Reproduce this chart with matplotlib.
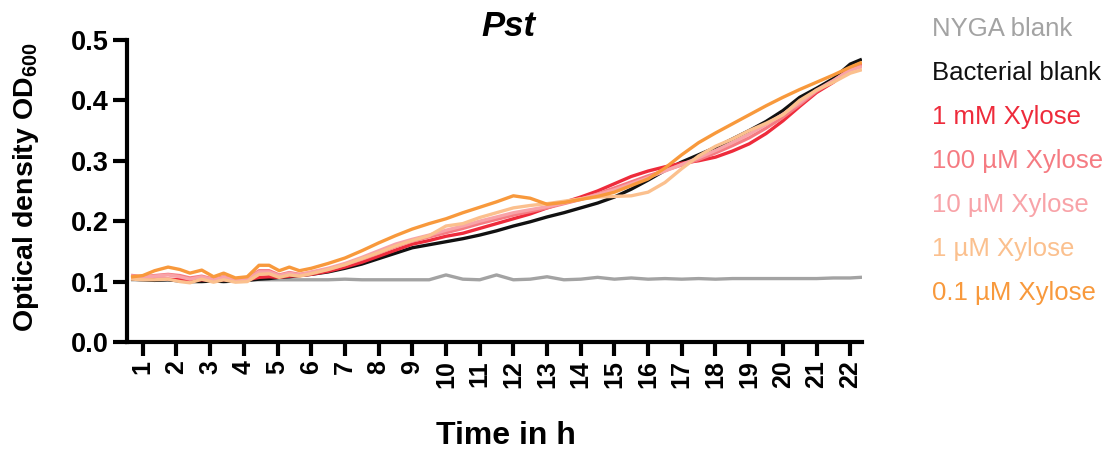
import matplotlib
matplotlib.use("Agg")
import matplotlib.pyplot as plt

# Fonts (Arial-like)
plt.rcParams['font.family'] = ['Liberation Sans', 'DejaVu Sans']
plt.rcParams['mathtext.fontset'] = 'custom'
plt.rcParams['mathtext.rm'] = 'Liberation Sans'
plt.rcParams['mathtext.bf'] = 'Liberation Sans:bold'

# Time points (h)
time_h = [0.7, 1.0, 1.35, 1.75, 2.1, 2.4, 2.75, 3.1, 3.4, 3.75, 4.1, 4.45, 4.75, 5.05, 5.35, 5.65, 6.0,
          6.5, 7.0, 7.5, 8.0, 8.5, 9.0, 9.5, 10.0, 10.5, 11.0, 11.5, 12.0, 12.5, 13.0, 13.5, 14.0,
          14.5, 15.0, 15.5, 16.0, 16.5, 17.0, 17.5, 18.0, 18.5, 19.0, 19.5, 20.0, 20.5, 21.0, 21.5,
          22.0, 22.3]

# OD600 per condition
nyga_blank = [0.103, 0.103, 0.103, 0.103, 0.102, 0.102, 0.103, 0.102, 0.103, 0.102, 0.103, 0.103, 0.103,
              0.103, 0.103, 0.103, 0.103,
              0.103, 0.104, 0.103, 0.103, 0.103, 0.103, 0.103, 0.111, 0.104, 0.103, 0.111, 0.103, 0.104,
              0.108, 0.103, 0.104, 0.107, 0.104, 0.106, 0.104, 0.105, 0.104, 0.105, 0.104, 0.105, 0.105,
              0.105, 0.105, 0.105, 0.105, 0.106, 0.106, 0.107]
bacterial_blank = [0.104, 0.103, 0.102, 0.103, 0.101, 0.100, 0.100, 0.101, 0.100, 0.101, 0.102, 0.104, 0.105,
                   0.107, 0.108, 0.110, 0.112,
                   0.116, 0.122, 0.129, 0.138, 0.147, 0.156, 0.161, 0.166, 0.171, 0.177, 0.184, 0.192,
                   0.199, 0.207, 0.214, 0.222, 0.230, 0.240, 0.253, 0.268, 0.284, 0.298, 0.310, 0.322,
                   0.336, 0.350, 0.365, 0.383, 0.405, 0.420, 0.436, 0.460, 0.467]
xyl_1mM = [0.106, 0.105, 0.104, 0.104, 0.103, 0.102, 0.103, 0.102, 0.103, 0.102, 0.103, 0.107, 0.108,
           0.107, 0.109, 0.110, 0.112,
           0.117, 0.124, 0.132, 0.142, 0.152, 0.162, 0.168, 0.175, 0.180, 0.188, 0.196, 0.204,
           0.212, 0.222, 0.231, 0.240, 0.250, 0.262, 0.274, 0.283, 0.290, 0.296, 0.300, 0.306,
           0.316, 0.328, 0.345, 0.366, 0.390, 0.413, 0.430, 0.452, 0.459]
xyl_100uM = [0.110, 0.108, 0.110, 0.112, 0.110, 0.106, 0.109, 0.104, 0.108, 0.104, 0.105, 0.118, 0.118,
             0.111, 0.115, 0.112, 0.115,
             0.120, 0.128, 0.137, 0.147, 0.158, 0.167, 0.174, 0.181, 0.188, 0.196, 0.203, 0.210,
             0.216, 0.222, 0.229, 0.236, 0.245, 0.255, 0.265, 0.275, 0.284, 0.293, 0.302, 0.313,
             0.325, 0.338, 0.354, 0.372, 0.393, 0.415, 0.432, 0.452, 0.458]
xyl_10uM = [0.109, 0.107, 0.109, 0.111, 0.108, 0.104, 0.108, 0.103, 0.107, 0.103, 0.104, 0.116, 0.116,
            0.110, 0.114, 0.111, 0.116,
            0.122, 0.130, 0.140, 0.151, 0.162, 0.170, 0.177, 0.185, 0.192, 0.200, 0.207, 0.214,
            0.219, 0.224, 0.230, 0.237, 0.244, 0.252, 0.262, 0.272, 0.283, 0.294, 0.305, 0.317,
            0.330, 0.344, 0.360, 0.377, 0.396, 0.417, 0.433, 0.450, 0.455]
xyl_1uM = [0.104, 0.103, 0.103, 0.104, 0.100, 0.098, 0.104, 0.099, 0.103, 0.099, 0.100, 0.112, 0.113,
           0.107, 0.111, 0.109, 0.113,
           0.120, 0.128, 0.138, 0.148, 0.159, 0.168, 0.176, 0.192, 0.196, 0.206, 0.214, 0.222,
           0.226, 0.229, 0.233, 0.237, 0.240, 0.241, 0.242, 0.248, 0.264, 0.287, 0.308, 0.324,
           0.336, 0.350, 0.362, 0.376, 0.400, 0.417, 0.430, 0.445, 0.450]
xyl_01uM = [0.108, 0.110, 0.118, 0.124, 0.120, 0.114, 0.119, 0.108, 0.114, 0.106, 0.108, 0.127, 0.127,
            0.118, 0.124, 0.118, 0.122,
            0.130, 0.139, 0.151, 0.164, 0.176, 0.187, 0.196, 0.204, 0.214, 0.223, 0.232, 0.242,
            0.238, 0.228, 0.231, 0.236, 0.241, 0.248, 0.259, 0.270, 0.288, 0.310, 0.330, 0.346,
            0.361, 0.376, 0.391, 0.405, 0.418, 0.430, 0.442, 0.455, 0.462]

labels = ["NYGA blank", "Bacterial blank", "1 mM Xylose", "100 µM Xylose",
          "10 µM Xylose", "1 µM Xylose", "0.1 µM Xylose"]
series = [nyga_blank, bacterial_blank, xyl_1mM, xyl_100uM, xyl_10uM, xyl_1uM, xyl_01uM]
colors = ["#A3A3A3", "#111111", "#EE2B3B", "#F57B82", "#F8A3A8", "#FBC08E", "#F8993C"]

x_ticks = list(range(1, 23))
y_ticks = [0.0, 0.1, 0.2, 0.3, 0.4, 0.5]

fig = plt.figure(figsize=(11.08, 4.54), dpi=100)
ax = fig.add_axes([0.1146, 0.2467, 0.6634, 0.6653])

lines = []
for vals, col, lab in zip(series, colors, labels):
    ln, = ax.plot(time_h, vals, color=col, linewidth=2.4, label=lab, solid_joinstyle='round')
    lines.append(ln)

ax.set_xlim(0.53, 22.35)
ax.set_ylim(0, 0.5)
ax.set_xticks(x_ticks)
ax.set_xticklabels([str(t) for t in x_ticks], rotation=90, fontsize=18, fontweight='bold')
ax.set_yticks(y_ticks)
ax.set_yticklabels([f"{v:.1f}" for v in y_ticks], fontsize=19.5, fontweight='bold')

for side in ['top', 'right']:
    ax.spines[side].set_visible(False)
for side in ['left', 'bottom']:
    ax.spines[side].set_linewidth(3)
ax.tick_params(axis='both', length=10, width=3, pad=3)

ax.set_xlabel("Time in h", fontsize=23, fontweight='bold', va='top')
ax.xaxis.set_label_coords(0.516, -0.262)
ax.set_ylabel(r"Optical density OD$_\mathbf{600}$", fontsize=20.5, fontweight='bold')
ax.yaxis.set_label_coords(-0.117, 0.512)

fig.text(508 / 1108, 1 - 27 / 454, "Pst", fontsize=25, fontweight='bold', style='italic',
         ha='center', va='center')

leg = ax.legend(handles=lines, loc='upper left', bbox_to_anchor=(932 / 1108, 1 - 17 / 454),
                bbox_transform=fig.transFigure, frameon=False, handlelength=0, handletextpad=0,
                borderpad=0, borderaxespad=0, labelspacing=0.78, fontsize=18.5)
for txt, ln in zip(leg.get_texts(), lines):
    txt.set_color(ln.get_color())
for h in leg.legend_handles:
    h.set_visible(False)

plt.savefig("out.png", dpi=100)
